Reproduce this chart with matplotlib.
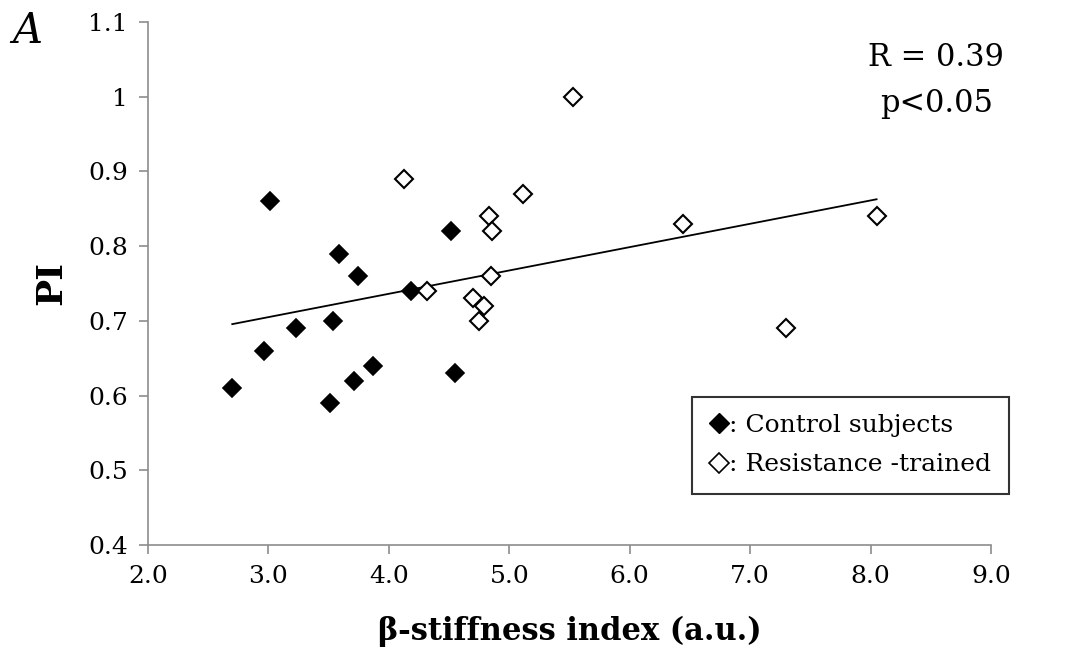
import numpy as np
import matplotlib.pyplot as plt
from matplotlib.lines import Line2D

# beta-stiffness index vs PI, two groups
control_x = [2.70, 2.96, 3.23, 3.01, 3.59, 3.74, 3.54, 3.51, 3.71, 3.87, 4.18, 4.52, 4.55]
control_pi = [0.61, 0.66, 0.69, 0.86, 0.79, 0.76, 0.70, 0.59, 0.62, 0.64, 0.74, 0.82, 0.63]
trained_x = [4.13, 4.32, 5.53, 5.11, 4.83, 4.86, 4.85, 4.70, 4.79, 4.75, 6.44, 7.30, 8.05]
trained_pi = [0.89, 0.74, 1.00, 0.87, 0.84, 0.82, 0.76, 0.73, 0.72, 0.70, 0.83, 0.69, 0.84]

x_ticks = [2.0, 3.0, 4.0, 5.0, 6.0, 7.0, 8.0, 9.0]
y_ticks = [0.4, 0.5, 0.6, 0.7, 0.8, 0.9, 1.0, 1.1]
y_tick_labels = ["0.4", "0.5", "0.6", "0.7", "0.8", "0.9", "1", "1.1"]

plt.rcParams['font.family'] = ['DejaVu Serif']
plt.rcParams['mathtext.fontset'] = 'dejavuserif'

fig = plt.figure(figsize=(10.84, 6.55), dpi=100)
ax = fig.add_axes([0.1365, 0.168, 0.7777, 0.7984])

# linear trend over all subjects
all_x = np.array(control_x + trained_x)
all_y = np.array(control_pi + trained_pi)
slope, intercept = np.polyfit(all_x, all_y, 1)
xs = np.array([all_x.min(), all_x.max()])
ax.plot(xs, slope * xs + intercept, color='black', lw=1.3, zorder=2)

ax.plot(control_x, control_pi, 'D', ms=9.5, mfc='black', mec='black', mew=1.2, zorder=3)
ax.plot(trained_x, trained_pi, 'D', ms=9.5, mfc='white', mec='black', mew=1.5, zorder=3)

ax.set_xlim(2.0, 9.0)
ax.set_ylim(0.4, 1.1)
ax.set_xticks(x_ticks)
ax.set_xticklabels([f"{v:.1f}" for v in x_ticks])
ax.set_yticks(y_ticks)
ax.set_yticklabels(y_tick_labels)

for side in ['top', 'right']:
    ax.spines[side].set_visible(False)
for side in ['left', 'bottom']:
    ax.spines[side].set_color('#8c8c8c')
    ax.spines[side].set_linewidth(1.2)
ax.tick_params(axis='both', direction='out', length=6.5, width=1.2, color='#8c8c8c', labelsize=18, pad=8)

ax.set_xlabel("β-stiffness index (a.u.)", fontsize=22, fontweight='bold', labelpad=20)
ax.set_ylabel("PI", fontsize=26, fontweight='bold', labelpad=14)

ax.text(0.935, 0.933, "R = 0.39", transform=ax.transAxes, ha='center', va='center', fontsize=22)
ax.text(0.935, 0.845, "p<0.05", transform=ax.transAxes, ha='center', va='center', fontsize=22)
fig.text(0.025, 0.952, "A", fontsize=30, style='italic', ha='center', va='center')

handles = [Line2D([], [], marker='D', ls='none', ms=10, mfc='black', mec='black'),
           Line2D([], [], marker='D', ls='none', ms=10, mfc='white', mec='black', mew=1.2)]
leg = ax.legend(handles, [": Control subjects", ": Resistance -trained"], loc='lower right',
                bbox_to_anchor=(1.021, 0.0975), borderaxespad=0, fontsize=18, frameon=True,
                fancybox=False, handlelength=0.8, handletextpad=0.0, borderpad=0.7,
                labelspacing=0.65)
leg.get_frame().set_edgecolor('black')
leg.get_frame().set_linewidth(1.5)

fig.savefig("out.png", dpi=100)
